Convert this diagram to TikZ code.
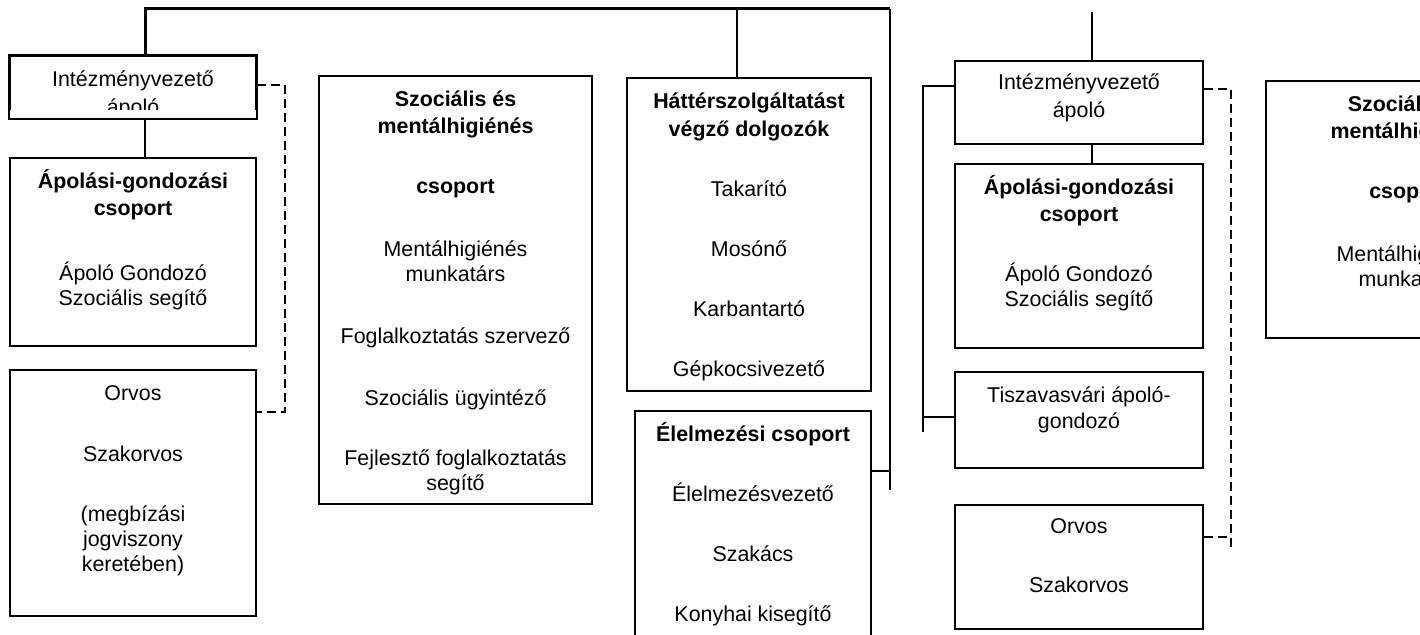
\documentclass[tikz,border=0pt]{standalone}
\usepackage{fontspec}
\setmainfont{Liberation Sans}
\newlength{\pxl}
\setlength{\pxl}{0.5pt}
\newcommand{\unittext}[4][15.25pt]{\parbox[t][#3\pxl][t]{#2\pxl}{\centering\rule{0pt}{#1}#4}}

\begin{document}
\begin{tikzpicture}
[
	x=0.5pt,y=-0.5pt,
	unit/.style={rectangle,draw,line width=1,inner sep=0pt,anchor=north west,font=\fontsize{10.7}{12.5}\selectfont},
	link/.style={line width=0.8},
	trunk/.style={line width=1.5},
	dotlink/.style={line width=0.9,dash pattern=on 4.5pt off 2.5pt}
]

\useasboundingbox (0,0) rectangle (1420,635);
\clip (0,0) rectangle (1420,635);

\begin{scope}
\clip (0,0) rectangle (300,110);
\node[unit] (vez1) at (9,55) {\unittext{246}{62}{Intézményvezető\\[1.5pt]ápoló}};
\end{scope}
\draw[line width=1] (vez1.north west) rectangle (vez1.south east);

\node[unit] (apol1) at (9,157) {\unittext{246}{188}{\textbf{Ápolási-gondozási}\\[1pt]\textbf{csoport}\\[20pt]Ápoló Gondozó\\Szociális segítő}};
\node[unit] (orvos1) at (9,369) {\unittext{246}{246}{Orvos\\[18pt]Szakorvos\\[17.5pt](megbízási\\jogviszony\\keretében)}};

\node[unit] (szoc1) at (318,75) {\unittext{273}{428}{\textbf{Szociális és}\\[1pt]\textbf{mentálhigiénés}\\[17.5pt]\textbf{csoport}\\[19pt]Mentálhigiénés\\munkatárs\\[18.5pt]Foglalkoztatás szervező\\[18.5pt]Szociális ügyintéző\\[17.5pt]Fejlesztő foglalkoztatás\\segítő}};

\node[unit] (hatter1) at (626,77) {\unittext{244}{313}{\textbf{Háttérszolgáltatást}\\[1.5pt]\textbf{végző dolgozók}\\[17.5pt]Takarító\\[17.5pt]Mosónő\\[17.5pt]Karbantartó\\[17.5pt]Gépkocsivezető}};
\node[unit] (elelm1) at (634,410) {\unittext{236}{250}{\textbf{Élelmezési csoport}\\[17.5pt]Élelmezésvezető\\[17.5pt]Szakács\\[17.5pt]Konyhai kisegítő}};

\node[unit] (vez2) at (954,60) {\unittext[14.5pt]{248}{83}{Intézményvezető\\[1.5pt]ápoló}};
\node[unit] (apol2) at (954,163) {\unittext{248}{184}{\textbf{Ápolási-gondozási}\\[1pt]\textbf{csoport}\\[17.5pt]Ápoló Gondozó\\Szociális segítő}};
\node[unit] (tisza2) at (954,371) {\unittext{248}{96}{Tiszavasvári ápoló-\\[0.5pt]gondozó}};
\node[unit] (orvos2) at (954,504) {\unittext[14.5pt]{248}{124}{Orvos\\[17pt]Szakorvos}};

\node[unit] (szoc2) at (1265,80) {\unittext{285}{257}{\textbf{Szociális és}\\[1pt]\textbf{mentálhigiénés}\\[17.5pt]\textbf{csoport}\\[19pt]Mentálhigiénés\\munkatárs}};

\coordinate (topl) at (145,9);
\coordinate (topr) at (890,9);
\coordinate (topend) at (890,490);
\coordinate (hub) at (737,9);
\coordinate (elhub) at (890,471);

\draw[trunk] (topl |- vez1.north) -- (topl) -- (topr);
\draw[link] (topr) -- (topend);
\draw[link] (hub) -- (hub |- hatter1.north);
\draw[link] (elhub) -- (elhub -| elelm1.east);
\draw[link] (topl |- vez1.south) -- (topl |- apol1.north);

\coordinate (dl1) at (285,85);
\coordinate (dl2) at (285,412);
\draw[dotlink] (dl1 -| vez1.east) -- (dl1) -- (dl2) -- (dl2 -| orvos1.east);

\coordinate (top2) at (1092,12);
\draw[link] (top2) -- (top2 |- vez2.north);
\draw[link] (top2 |- vez2.south) -- (top2 |- apol2.north);

\coordinate (br1) at (923,86);
\coordinate (br2) at (923,417);
\coordinate (br3) at (923,432);
\draw[link] (br1 -| vez2.west) -- (br1) -- (br3);
\draw[link] (br2) -- (br2 -| tisza2.west);

\coordinate (dr1) at (1231,89);
\coordinate (dr2) at (1231,552);
\coordinate (dr3) at (1231,537);
\draw[dotlink] (dr1 -| vez2.east) -- (dr1) -- (dr2);
\draw[dotlink] (dr3 -| orvos2.east) -- (dr3);

\end{tikzpicture}
\end{document}
